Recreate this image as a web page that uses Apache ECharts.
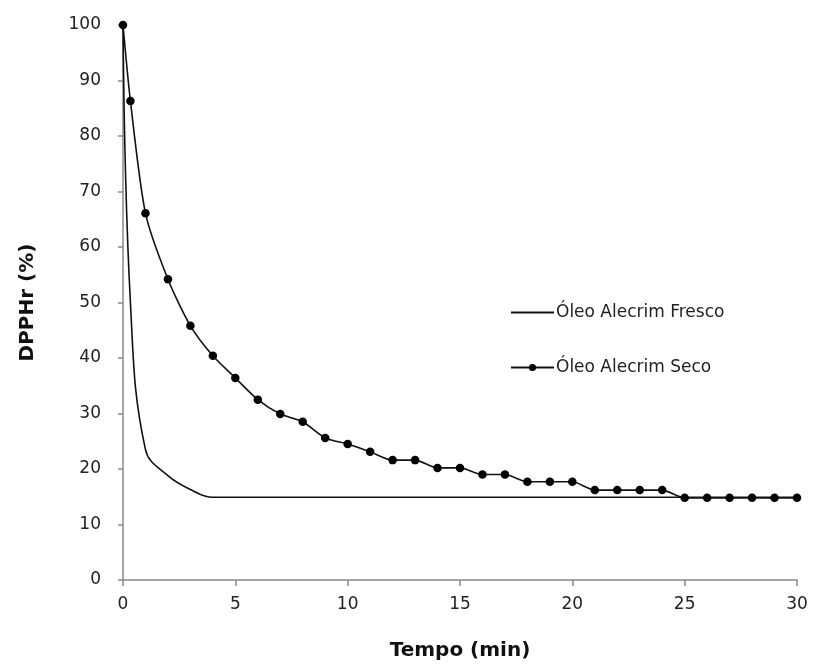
<!DOCTYPE html>
<html>
<head>
<meta charset="utf-8">
<script src="https://cdn.jsdelivr.net/npm/echarts@6/dist/echarts.min.js"></script>
<style>html,body{margin:0;padding:0;background:#fff}#c{width:814px;height:668px}</style>
</head>
<body>
<div id="c"></div>
<script>
var timeFresco = [0, 0.33, 1, 2, 3, 4, 5, 6, 7, 8, 9, 10, 11, 12, 13, 14, 15, 16, 17, 18, 19, 20, 21, 22, 23, 24, 25, 26, 27, 28, 29, 30];
var valFresco = [100, 50, 23.5, 18.8, 16.3, 14.9, 14.9, 14.9, 14.9, 14.9, 14.9, 14.9, 14.9, 14.9, 14.9, 14.9, 14.9, 14.9, 14.9, 14.9, 14.9, 14.9, 14.9, 14.9, 14.9, 14.9, 14.9, 14.9, 14.9, 14.9, 14.9, 14.9];
var timeSeco = [0, 0.33, 1, 2, 3, 4, 5, 6, 7, 8, 9, 10, 11, 12, 13, 14, 15, 16, 17, 18, 19, 20, 21, 22, 23, 24, 25, 26, 27, 28, 29, 30];
var valSeco = [100, 86.3, 66.1, 54.2, 45.8, 40.4, 36.4, 32.5, 29.9, 28.5, 25.6, 24.5, 23.1, 21.6, 21.6, 20.2, 20.2, 19.0, 19.0, 17.7, 17.7, 17.7, 16.2, 16.2, 16.2, 16.2, 14.8, 14.8, 14.8, 14.8, 14.8, 14.8];
var xTicks = [0, 5, 10, 15, 20, 25, 30];
var yTicks = [0, 10, 20, 30, 40, 50, 60, 70, 80, 90, 100];
var seriesNames = ['Óleo Alecrim Fresco', 'Óleo Alecrim Seco'];

function pairs(xs, ys) { return xs.map(function (x, i) { return [x, ys[i]]; }); }

var font = '"DejaVu Sans", sans-serif';
var axisGray = '#898989';
var chart = echarts.init(document.getElementById('c'), null, {renderer: 'canvas'});
chart.setOption({
  animation: false,
  backgroundColor: '#fff',
  grid: {left: 123, right: 17, top: 25, bottom: 88, containLabel: false},
  legend: {
    orient: 'vertical', left: 505, top: 299,
    itemWidth: 43, itemHeight: 9, itemGap: 38,
    textStyle: {fontFamily: font, fontSize: 17, color: '#222', padding: [0, 0, 0, -3]},
    data: [
      {name: seriesNames[0], itemStyle: {opacity: 0}},
      {name: seriesNames[1]}
    ]
  },
  xAxis: {
    type: 'value', min: xTicks[0], max: xTicks[xTicks.length - 1], interval: 5,
    name: 'Tempo (min)', nameLocation: 'middle', nameGap: 61,
    nameTextStyle: {fontFamily: font, fontSize: 20, fontWeight: 'bold', color: '#111'},
    axisLine: {show: true, lineStyle: {color: axisGray, width: 1.5}},
    axisTick: {show: true, inside: false, length: 6, lineStyle: {color: axisGray, width: 1.5}},
    axisLabel: {fontFamily: font, fontSize: 17, color: '#222', margin: 16},
    splitLine: {show: false}
  },
  yAxis: {
    type: 'value', min: yTicks[0], max: yTicks[yTicks.length - 1], interval: 10,
    name: 'DPPHr (%)', nameLocation: 'middle', nameGap: 85, nameRotate: 90,
    nameTextStyle: {fontFamily: font, fontSize: 20, fontWeight: 'bold', color: '#111'},
    axisLine: {show: true, lineStyle: {color: axisGray, width: 1.5}},
    axisTick: {show: true, inside: false, length: 5, lineStyle: {color: axisGray, width: 1.5}},
    axisLabel: {fontFamily: font, fontSize: 17, color: '#222', margin: 22},
    splitLine: {show: false}
  },
  series: [
    {
      name: seriesNames[0], type: 'line', data: pairs(timeFresco, valFresco),
      symbol: 'none', smooth: 0.4,
      lineStyle: {color: '#111', width: 1.6}, itemStyle: {color: '#111'}
    },
    {
      name: seriesNames[1], type: 'line', data: pairs(timeSeco, valSeco),
      symbol: 'circle', symbolSize: 8.5, showSymbol: true, smooth: 0.25,
      lineStyle: {color: '#111', width: 1.6}, itemStyle: {color: '#000'}
    }
  ]
});
</script>
</body>
</html>
